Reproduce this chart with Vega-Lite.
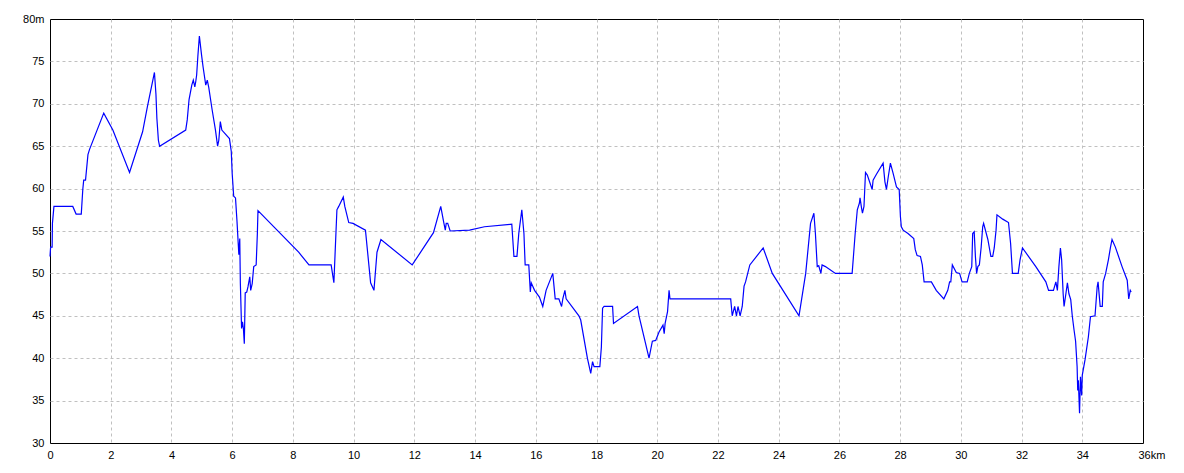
{
  "$schema": "https://vega.github.io/schema/vega-lite/v6.json",
  "width": 1093,
  "height": 424,
  "autosize": {"type": "none"},
  "padding": {"left": 50, "top": 19, "right": 41, "bottom": 30},
  "background": "white",
  "config": {
    "view": {"stroke": "black", "strokeWidth": 1},
    "axis": {
      "grid": true,
      "gridDash": [3, 3],
      "gridWidth": 1,
      "domain": false,
      "ticks": false,
      "title": null,
      "labelFont": "Liberation Sans",
      "labelFontSize": 11,
      "labelColor": "black",
      "labelPadding": 6
    }
  },
  "data": {
    "values": [
      {"km": 0, "m": 52}, {"km": 0.02, "m": 53.1}, {"km": 0.07, "m": 53.1}, {"km": 0.08, "m": 55.9},
      {"km": 0.13, "m": 57.9}, {"km": 0.75, "m": 57.9}, {"km": 0.86, "m": 57}, {"km": 1.03, "m": 57},
      {"km": 1.08, "m": 59.9}, {"km": 1.11, "m": 61}, {"km": 1.17, "m": 61}, {"km": 1.25, "m": 64},
      {"km": 1.3, "m": 64.6}, {"km": 1.77, "m": 68.9}, {"km": 2.07, "m": 66.9}, {"km": 2.62, "m": 61.9},
      {"km": 3.05, "m": 66.7}, {"km": 3.21, "m": 69.7}, {"km": 3.44, "m": 73.7}, {"km": 3.49, "m": 71.1},
      {"km": 3.52, "m": 68.3}, {"km": 3.57, "m": 65.7}, {"km": 3.61, "m": 65}, {"km": 4.47, "m": 66.9},
      {"km": 4.52, "m": 68.1}, {"km": 4.58, "m": 70.5}, {"km": 4.67, "m": 72.2}, {"km": 4.72, "m": 72.8},
      {"km": 4.77, "m": 72}, {"km": 4.8, "m": 72.6}, {"km": 4.83, "m": 73.4}, {"km": 4.87, "m": 75.6},
      {"km": 4.92, "m": 78}, {"km": 4.99, "m": 75.8}, {"km": 5.04, "m": 74.4}, {"km": 5.13, "m": 72.2},
      {"km": 5.18, "m": 72.8}, {"km": 5.23, "m": 71.9}, {"km": 5.34, "m": 69.3}, {"km": 5.45, "m": 66.9},
      {"km": 5.52, "m": 65}, {"km": 5.56, "m": 65.7}, {"km": 5.61, "m": 67.9}, {"km": 5.66, "m": 66.9},
      {"km": 5.91, "m": 65.9}, {"km": 5.97, "m": 64.4}, {"km": 6.0, "m": 61.8}, {"km": 6.05, "m": 59.1},
      {"km": 6.11, "m": 58.9}, {"km": 6.16, "m": 56.1}, {"km": 6.2, "m": 53.5}, {"km": 6.22, "m": 52.2},
      {"km": 6.25, "m": 54.1}, {"km": 6.27, "m": 48.8}, {"km": 6.31, "m": 43.5}, {"km": 6.34, "m": 44.3},
      {"km": 6.37, "m": 43.5}, {"km": 6.4, "m": 41.7}, {"km": 6.43, "m": 47.7}, {"km": 6.48, "m": 47.8},
      {"km": 6.52, "m": 48.4}, {"km": 6.58, "m": 49.6}, {"km": 6.61, "m": 48}, {"km": 6.66, "m": 48.8},
      {"km": 6.71, "m": 50.8}, {"km": 6.79, "m": 51}, {"km": 6.83, "m": 54.7}, {"km": 6.85, "m": 57.4},
      {"km": 8.19, "m": 52.5}, {"km": 8.53, "m": 51}, {"km": 9.26, "m": 51}, {"km": 9.35, "m": 48.9},
      {"km": 9.45, "m": 57.5}, {"km": 9.51, "m": 57.9}, {"km": 9.66, "m": 59}, {"km": 9.71, "m": 57.9},
      {"km": 9.84, "m": 56}, {"km": 9.98, "m": 55.9}, {"km": 10.39, "m": 55.1}, {"km": 10.56, "m": 48.9},
      {"km": 10.67, "m": 48}, {"km": 10.77, "m": 52.5}, {"km": 10.9, "m": 54}, {"km": 11.93, "m": 51},
      {"km": 12.63, "m": 54.8}, {"km": 12.87, "m": 57.9}, {"km": 12.97, "m": 56}, {"km": 13.02, "m": 55.1},
      {"km": 13.05, "m": 55.9}, {"km": 13.1, "m": 55.9}, {"km": 13.18, "m": 55}, {"km": 13.82, "m": 55.1},
      {"km": 14.31, "m": 55.5}, {"km": 15.21, "m": 55.8}, {"km": 15.28, "m": 52}, {"km": 15.38, "m": 52},
      {"km": 15.44, "m": 54.7}, {"km": 15.54, "m": 57.5}, {"km": 15.61, "m": 54.7}, {"km": 15.65, "m": 51},
      {"km": 15.77, "m": 51}, {"km": 15.82, "m": 47.8}, {"km": 15.85, "m": 48.9}, {"km": 15.96, "m": 48},
      {"km": 16.12, "m": 47.2}, {"km": 16.23, "m": 46.1}, {"km": 16.34, "m": 48}, {"km": 16.56, "m": 50},
      {"km": 16.64, "m": 47}, {"km": 16.76, "m": 47}, {"km": 16.85, "m": 46.1}, {"km": 16.89, "m": 47},
      {"km": 16.96, "m": 48}, {"km": 17.0, "m": 47}, {"km": 17.42, "m": 45}, {"km": 17.48, "m": 44.5},
      {"km": 17.7, "m": 40}, {"km": 17.81, "m": 38.2}, {"km": 17.87, "m": 39.6}, {"km": 17.92, "m": 39},
      {"km": 18.11, "m": 39}, {"km": 18.16, "m": 41.3}, {"km": 18.2, "m": 45.9}, {"km": 18.25, "m": 46.1},
      {"km": 18.53, "m": 46.1}, {"km": 18.56, "m": 44.1}, {"km": 19.35, "m": 46.1}, {"km": 19.4, "m": 45},
      {"km": 19.73, "m": 40}, {"km": 19.84, "m": 42}, {"km": 19.95, "m": 42.1}, {"km": 20.06, "m": 43.1},
      {"km": 20.19, "m": 43.9}, {"km": 20.23, "m": 42.9}, {"km": 20.26, "m": 44.1}, {"km": 20.34, "m": 45.5},
      {"km": 20.39, "m": 48}, {"km": 20.42, "m": 47}, {"km": 22.42, "m": 47}, {"km": 22.47, "m": 45},
      {"km": 22.55, "m": 46.1}, {"km": 22.61, "m": 45}, {"km": 22.66, "m": 46.1}, {"km": 22.73, "m": 45},
      {"km": 22.8, "m": 46.1}, {"km": 22.86, "m": 48.5}, {"km": 22.91, "m": 49}, {"km": 23.05, "m": 51},
      {"km": 23.49, "m": 53}, {"km": 23.79, "m": 50}, {"km": 24.67, "m": 45}, {"km": 24.89, "m": 50},
      {"km": 25.05, "m": 55.9}, {"km": 25.16, "m": 57.1}, {"km": 25.21, "m": 54.7}, {"km": 25.27, "m": 50.8},
      {"km": 25.32, "m": 50.9}, {"km": 25.39, "m": 50}, {"km": 25.43, "m": 51}, {"km": 25.54, "m": 50.8},
      {"km": 25.87, "m": 50}, {"km": 26.42, "m": 50}, {"km": 26.52, "m": 54.7}, {"km": 26.59, "m": 57.5},
      {"km": 26.66, "m": 58.3}, {"km": 26.68, "m": 58.9}, {"km": 26.73, "m": 57.7}, {"km": 26.76, "m": 57.1},
      {"km": 26.81, "m": 57.9}, {"km": 26.86, "m": 61.9}, {"km": 26.92, "m": 61.6}, {"km": 27.08, "m": 59.9},
      {"km": 27.11, "m": 61}, {"km": 27.22, "m": 61.7}, {"km": 27.44, "m": 63}, {"km": 27.5, "m": 60.8},
      {"km": 27.55, "m": 59.9}, {"km": 27.61, "m": 61.4}, {"km": 27.68, "m": 63}, {"km": 27.77, "m": 61.8},
      {"km": 27.88, "m": 60.2}, {"km": 27.97, "m": 59.9}, {"km": 28.01, "m": 56.7}, {"km": 28.04, "m": 55.5},
      {"km": 28.1, "m": 55.1}, {"km": 28.26, "m": 54.7}, {"km": 28.45, "m": 54.1}, {"km": 28.5, "m": 52.8},
      {"km": 28.56, "m": 52.1}, {"km": 28.67, "m": 52}, {"km": 28.73, "m": 51}, {"km": 28.79, "m": 49},
      {"km": 29.03, "m": 49}, {"km": 29.19, "m": 48}, {"km": 29.44, "m": 47}, {"km": 29.57, "m": 48},
      {"km": 29.63, "m": 49}, {"km": 29.67, "m": 49}, {"km": 29.72, "m": 51}, {"km": 29.85, "m": 50.1},
      {"km": 29.96, "m": 50}, {"km": 30.04, "m": 49}, {"km": 30.21, "m": 49}, {"km": 30.28, "m": 50},
      {"km": 30.36, "m": 50.8}, {"km": 30.39, "m": 54.7}, {"km": 30.44, "m": 54.9}, {"km": 30.48, "m": 52},
      {"km": 30.52, "m": 50}, {"km": 30.56, "m": 50.8}, {"km": 30.61, "m": 51}, {"km": 30.67, "m": 53.1},
      {"km": 30.72, "m": 55.5}, {"km": 30.75, "m": 55.9}, {"km": 30.89, "m": 54}, {"km": 30.99, "m": 52},
      {"km": 31.05, "m": 52}, {"km": 31.1, "m": 53}, {"km": 31.16, "m": 55.1}, {"km": 31.19, "m": 56.9},
      {"km": 31.38, "m": 56.4}, {"km": 31.57, "m": 56}, {"km": 31.64, "m": 53.5}, {"km": 31.7, "m": 50},
      {"km": 31.89, "m": 50}, {"km": 31.95, "m": 51.6}, {"km": 32.03, "m": 53}, {"km": 32.47, "m": 50.8},
      {"km": 32.8, "m": 49}, {"km": 32.89, "m": 48}, {"km": 33.05, "m": 48}, {"km": 33.13, "m": 49},
      {"km": 33.18, "m": 48}, {"km": 33.23, "m": 50.8}, {"km": 33.28, "m": 53}, {"km": 33.32, "m": 51.6},
      {"km": 33.37, "m": 47.6}, {"km": 33.4, "m": 46.1}, {"km": 33.46, "m": 47.6}, {"km": 33.51, "m": 48.9},
      {"km": 33.56, "m": 47.6}, {"km": 33.62, "m": 46.9}, {"km": 33.67, "m": 45}, {"km": 33.73, "m": 43.3},
      {"km": 33.78, "m": 42}, {"km": 33.83, "m": 39}, {"km": 33.85, "m": 36.2}, {"km": 33.87, "m": 37.4},
      {"km": 33.91, "m": 33.5}, {"km": 33.94, "m": 37.8}, {"km": 33.98, "m": 35.6}, {"km": 34.0, "m": 38},
      {"km": 34.09, "m": 39.8}, {"km": 34.2, "m": 42.5}, {"km": 34.27, "m": 44.9}, {"km": 34.42, "m": 45},
      {"km": 34.49, "m": 48.4}, {"km": 34.52, "m": 49}, {"km": 34.59, "m": 46.1}, {"km": 34.66, "m": 46.1},
      {"km": 34.69, "m": 49}, {"km": 34.77, "m": 50}, {"km": 34.86, "m": 51.6}, {"km": 34.93, "m": 53.1},
      {"km": 34.98, "m": 54}, {"km": 35.09, "m": 53.1}, {"km": 35.31, "m": 50.8}, {"km": 35.48, "m": 49.2},
      {"km": 35.53, "m": 47}, {"km": 35.58, "m": 48}, {"km": 35.61, "m": 47.8}
    ]
  },
  "mark": {"type": "line", "color": "#0000ff", "strokeWidth": 1.2},
  "encoding": {
    "x": {
      "field": "km",
      "type": "quantitative",
      "scale": {"domain": [0, 36], "nice": false, "zero": false},
      "axis": {
        "values": [0, 2, 4, 6, 8, 10, 12, 14, 16, 18, 20, 22, 24, 26, 28, 30, 32, 34, 36],
        "gridColor": {"condition": {"test": "datum.value == 0 || datum.value == 36", "value": "transparent"}, "value": "#c0c0c0"},
        "labelExpr": "datum.value == 36 ? '36km' : datum.label",
        "labelAlign": {"condition": {"test": "datum.value == 36", "value": "left"}, "value": "center"},
        "labelOffset": {"condition": {"test": "datum.value == 36", "value": -5}, "value": 0},
        "labelFlush": false,
        "labelOverlap": false
      }
    },
    "y": {
      "field": "m",
      "type": "quantitative",
      "scale": {"domain": [30, 80], "nice": false, "zero": false},
      "axis": {
        "values": [30, 35, 40, 45, 50, 55, 60, 65, 70, 75, 80],
        "gridColor": {"condition": {"test": "datum.value == 30 || datum.value == 80", "value": "transparent"}, "value": "#c0c0c0"},
        "labelExpr": "datum.value == 80 ? '80m' : datum.label",
        "labelFlush": false,
        "labelOverlap": false
      }
    }
  }
}
